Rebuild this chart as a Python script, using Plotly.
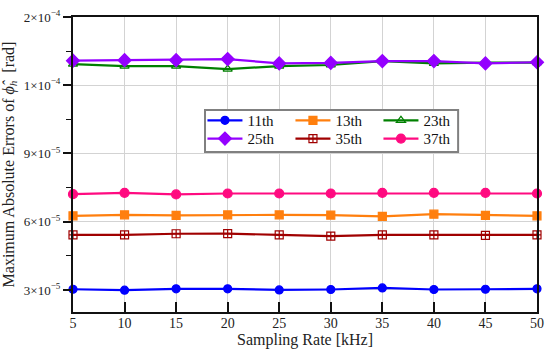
import plotly.graph_objects as go

sampling_rate = [5, 10, 15, 20, 25, 30, 35, 40, 45, 50]

# values in units of 1e-5 rad
h11 = [3.03, 2.99, 3.05, 3.05, 3.00, 3.02, 3.09, 3.02, 3.03, 3.05]
h13 = [6.26, 6.30, 6.28, 6.30, 6.30, 6.29, 6.23, 6.33, 6.28, 6.26]
h23 = [12.93, 12.84, 12.84, 12.71, 12.84, 12.89, 13.06, 12.96, 12.99, 12.99]
h25 = [13.08, 13.10, 13.10, 13.15, 12.96, 12.98, 13.06, 13.06, 12.96, 13.01]
h35 = [5.42, 5.42, 5.47, 5.48, 5.42, 5.37, 5.42, 5.42, 5.40, 5.42]
h37 = [7.21, 7.27, 7.20, 7.24, 7.24, 7.24, 7.27, 7.27, 7.27, 7.24]

names = ["11th", "13th", "23th", "25th", "35th", "37th"]
series = [h11, h13, h23, h25, h35, h37]
colors = ["#0000FF", "#FF7F0E", "#008000", "#9400FF", "#A00000", "#FF0A80"]
symbols = ["circle", "square", "triangle-up-open", "diamond", "square-cross-open", "circle"]
sizes = [8, 8, 8, 10, 8, 9]
legend_ids = ["legend", "legend", "legend", "legend2", "legend2", "legend2"]

y_tickvals = [3e-5, 6e-5, 9e-5, 12e-5, 15e-5]
y_ticktext = ["3×10<sup>−5</sup>", "6×10<sup>−5</sup>", "9×10<sup>−5</sup>",
              "1×10<sup>−4</sup>", "2×10<sup>−4</sup>"]
x_tickvals = [5, 10, 15, 20, 25, 30, 35, 40, 45, 50]

FONT = "Liberation Serif"

fig = go.Figure()
for name, vals, c, s, sz, lg in zip(names, series, colors, symbols, sizes, legend_ids):
    fig.add_trace(go.Scatter(
        x=sampling_rate, y=[v * 1e-5 for v in vals], name=name,
        mode="lines+markers", legend=lg,
        line=dict(color=c, width=2.2),
        marker=dict(symbol=s, size=sz, color=c, line=dict(color=c, width=1.2)),
        cliponaxis=False,
    ))

legend_common = dict(
    orientation="h", xanchor="left", yanchor="top",
    bgcolor="rgba(0,0,0,0)", borderwidth=0,
    font=dict(family=FONT, size=15, color="#111"),
    entrywidth=38, entrywidthmode="pixels", itemwidth=35,
)

fig.update_layout(
    width=550, height=357,
    margin=dict(l=73, r=13, t=17, b=45, autoexpand=False),
    paper_bgcolor="white", plot_bgcolor="white",
    font=dict(family=FONT, size=13, color="#222"),
    showlegend=True,
    legend=dict(x=0.279, y=0.705, **legend_common),
    legend2=dict(x=0.279, y=0.643, **legend_common),
    shapes=[dict(type="rect", xref="paper", yref="paper",
                 x0=0.2845, x1=0.830, y0=0.5424, y1=0.6847,
                 line=dict(color="#808080", width=2), fillcolor="white", layer="above")],
    xaxis=dict(
        range=[5, 50], tickvals=x_tickvals, automargin=False,
        ticks="inside", ticklen=10, tickwidth=2, tickcolor="#111",
        ticklabelstandoff=-3,
        showgrid=True, gridcolor="#D3D3D3", gridwidth=1,
        showline=True, linecolor="#111", linewidth=2, mirror=True,
        zeroline=False,
        title=dict(text="Sampling Rate [kHz]", font=dict(family=FONT, size=16, color="#222"), standoff=4),
        tickfont=dict(family=FONT, size=14, color="#222"),
    ),
    yaxis=dict(
        range=[2.03e-5, 15e-5], tickvals=y_tickvals, ticktext=y_ticktext, automargin=False,
        ticks="outside", ticklen=8, tickwidth=1.5, tickcolor="#111",
        minor=dict(tickvals=[4.5e-5, 7.5e-5, 10.5e-5, 13.5e-5], ticks="outside",
                   ticklen=5, tickwidth=1, tickcolor="#111", showgrid=False),
        showgrid=True, gridcolor="#D3D3D3", gridwidth=1,
        showline=True, linecolor="#111", linewidth=2, mirror=True,
        zeroline=False,
        title=dict(text="Maximum Absolute Errors of <i>ϕ̂</i><sub><i>h</i></sub>  [rad]",
                   font=dict(family=FONT, size=16, color="#222"), standoff=6),
        tickfont=dict(family=FONT, size=13, color="#222"),
    ),
)

fig.write_html("out.html", config={"displayModeBar": False},
               post_script="document.body.style.margin='0';document.body.style.padding='0';")
